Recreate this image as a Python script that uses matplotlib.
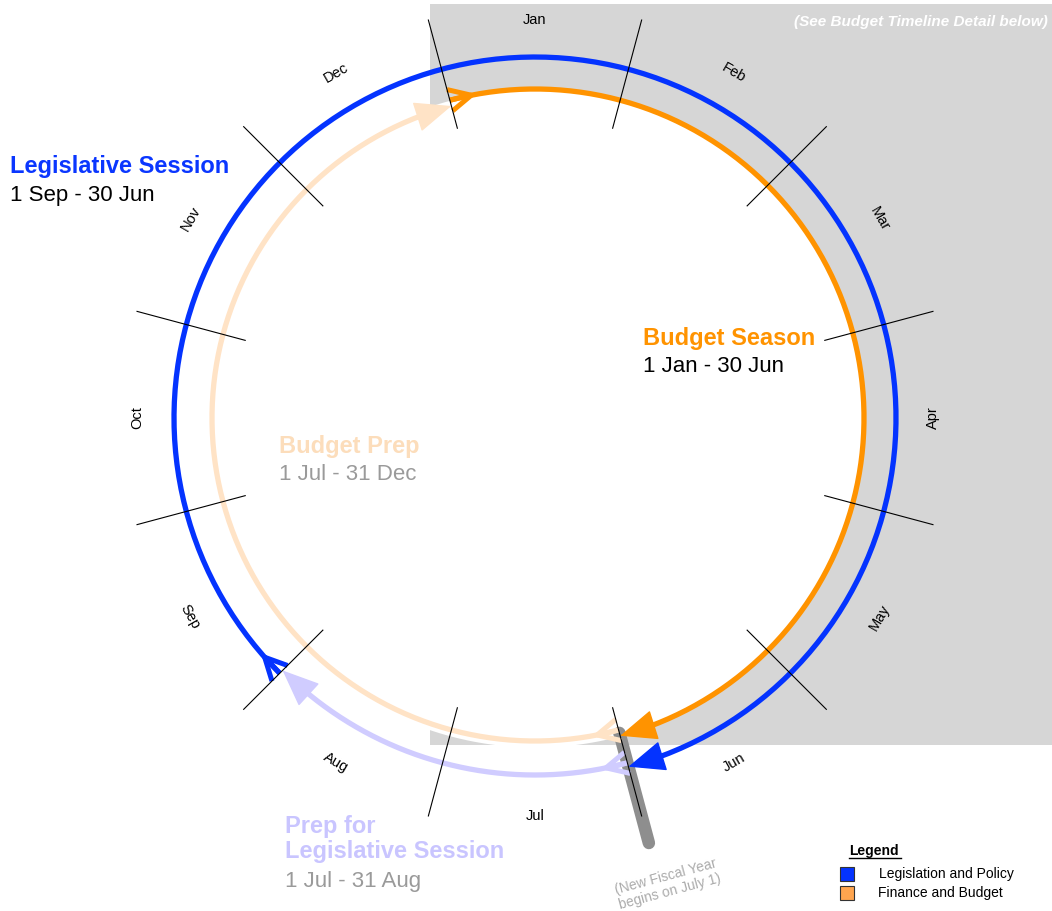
"""
Annual legislative / budget cycle drawn as a month wheel.
"""

import numpy as np
import matplotlib
matplotlib.use("Agg")
import matplotlib.pyplot as plt
from matplotlib.patches import Rectangle

plt.rcParams["font.family"] = ["Liberation Sans", "DejaVu Sans"]

# ── data ───────────────────────────────────────────────────────────────────
MONTHS = ["Jan", "Feb", "Mar", "Apr", "May", "Jun",
          "Jul", "Aug", "Sep", "Oct", "Nov", "Dec"]

PERIODS      = ["Legislative Session", "Budget Season", "Budget Prep",
                "Prep for\nLegislative Session"]
PERIOD_RANGE = ["1 Sep - 30 Jun", "1 Jan - 30 Jun", "1 Jul - 31 Dec",
                "1 Jul - 31 Aug"]
START_MONTH  = [9, 1, 7, 7]     # period starts on day 1 of this month
END_MONTH    = [6, 6, 12, 8]    # period ends on the last day of this month

FISCAL_YEAR_MONTH = 7           # new fiscal year begins July 1

LEGEND_LABELS = ["Legislation and Policy", "Finance and Budget"]

# ── styles ─────────────────────────────────────────────────────────────────
W, H        = 1052, 911
CX, CY      = 535, 418          # wheel centre (px, from top-left)
RMAX        = 450
ARC_R       = [361, 329, 323, 357]
ARC_COLOR   = ["#0433FF", "#FF9300", "#FFE3C6", "#D0CCFF"]
LABEL_COLOR = ["#0A36FF", "#FF9300", "#FCDDBB", "#C9C5FF"]
RANGE_COLOR = ["black", "black", "#9A9A9A", "#9A9A9A"]
LABEL_POS   = [(10, 167), (643, 339), (279, 446), (285, 839)]   # px
RANGE_POS   = [(10, 195), (643, 367), (279, 474), (285, 882)]
GRAY_BAND   = "#D6D6D6"
LEGEND_COL  = ["#0433FF", "#FFA54F"]


def month_start_deg(m):
    """compass angle (clockwise from north) of day 1 of month m (1..12)"""
    return 30 * (m - 1) - 15


def fx(x):
    return x / W


def fy(y):
    return 1 - y / H


fig = plt.figure(figsize=(W / 100, H / 100), dpi=100)
fig.patch.set_facecolor("white")

# grey "budget" quadrant behind the wheel
fig.patches.append(Rectangle((fx(430), fy(745)), fx(1052) - fx(430), fy(4) - fy(745),
                             transform=fig.transFigure, facecolor=GRAY_BAND,
                             edgecolor="none", zorder=-1))

ax = fig.add_axes([(CX - RMAX) / W, (H - CY - RMAX) / H, 2 * RMAX / W, 2 * RMAX / H],
                  projection="polar")
ax.set_theta_zero_location("N")
ax.set_theta_direction(-1)
ax.set_ylim(0, RMAX)
ax.axis("off")

# white inner disk
th = np.linspace(0, 2 * np.pi, 361)
ax.fill_between(th, 0, 329, color="white", zorder=1, lw=0)

# fiscal-year marker
fy_t = np.radians(month_start_deg(FISCAL_YEAR_MONTH))
ax.plot([fy_t, fy_t], [326, 440], color="#8E8E8E", lw=9,
        solid_capstyle="round", zorder=2)

# month boundaries + labels
for i, name in enumerate(MONTHS):
    b = np.radians(month_start_deg(i + 1))
    ax.plot([b, b], [300, 412], color="black", lw=0.8, zorder=6)
    c = 30 * i
    rot = -c
    while rot <= -90:
        rot += 180
    while rot > 90:
        rot -= 180
    ax.text(np.radians(c), 398, name, rotation=rot, ha="center", va="center",
            fontsize=10.5, rotation_mode="anchor", zorder=7)

# period arcs
for k in range(len(PERIODS)):
    a0 = month_start_deg(START_MONTH[k])
    a1 = month_start_deg(END_MONTH[k] + 1)
    if a1 <= a0:
        a1 += 360
    r, col = ARC_R[k], ARC_COLOR[k]
    head_deg = np.degrees(30 / r)
    t = np.radians(np.linspace(a0, a1 - head_deg * 0.8, 300))
    ax.plot(t, np.full_like(t, r), color=col, lw=3.8,
            solid_capstyle="butt", zorder=4)
    # arrow head
    ax.annotate("", xy=(np.radians(a1), r),
                xytext=(np.radians(a1 - head_deg), r),
                arrowprops=dict(arrowstyle="-|>,head_length=1.2,head_width=0.5",
                                mutation_scale=20, color=col, lw=1,
                                shrinkA=0, shrinkB=0),
                zorder=5)
    # forked tail
    back = np.degrees(22 / r)
    for off in (-11, 0, 11):
        ax.plot(np.radians([a0 + back, a0]), [r, r + off], color=col, lw=3.6,
                solid_capstyle="butt", zorder=4)

# period labels
for k, name in enumerate(PERIODS):
    fig.text(fx(LABEL_POS[k][0]), fy(LABEL_POS[k][1]), name, color=LABEL_COLOR[k],
             fontsize=17, fontweight="bold", ha="left", va="center",
             linespacing=1.15)
    fig.text(fx(RANGE_POS[k][0]), fy(RANGE_POS[k][1]), PERIOD_RANGE[k],
             color=RANGE_COLOR[k], fontsize=16, ha="left", va="center")

fig.text(fx(1048), fy(22), "(See Budget Timeline Detail below)", color="white",
         fontsize=11, fontweight="bold", fontstyle="italic", ha="right", va="center")

fig.text(fx(668), fy(884), "(New Fiscal Year\nbegins on July 1)", color="#ABABAB",
         fontsize=10, rotation=15, ha="center", va="center", linespacing=1.1)

# legend
fig.text(fx(849), fy(851), "Legend", fontsize=10, fontweight="bold",
         ha="left", va="center")
fig.add_artist(plt.Line2D([fx(849), fx(901)], [fy(858), fy(858)], color="black",
                          lw=1, transform=fig.transFigure))
for j, lab in enumerate(LEGEND_LABELS):
    y0 = 867 + 19 * j
    fig.patches.append(Rectangle((fx(840), fy(y0 + 14)), fx(14), 14 / H,
                                 transform=fig.transFigure, facecolor=LEGEND_COL[j],
                                 edgecolor="#333333", lw=0.8, zorder=3))
    fig.text(fx(879 - j), fy(y0 + 7), lab, fontsize=10, ha="left", va="center")

fig.savefig("out.png", dpi=100)
